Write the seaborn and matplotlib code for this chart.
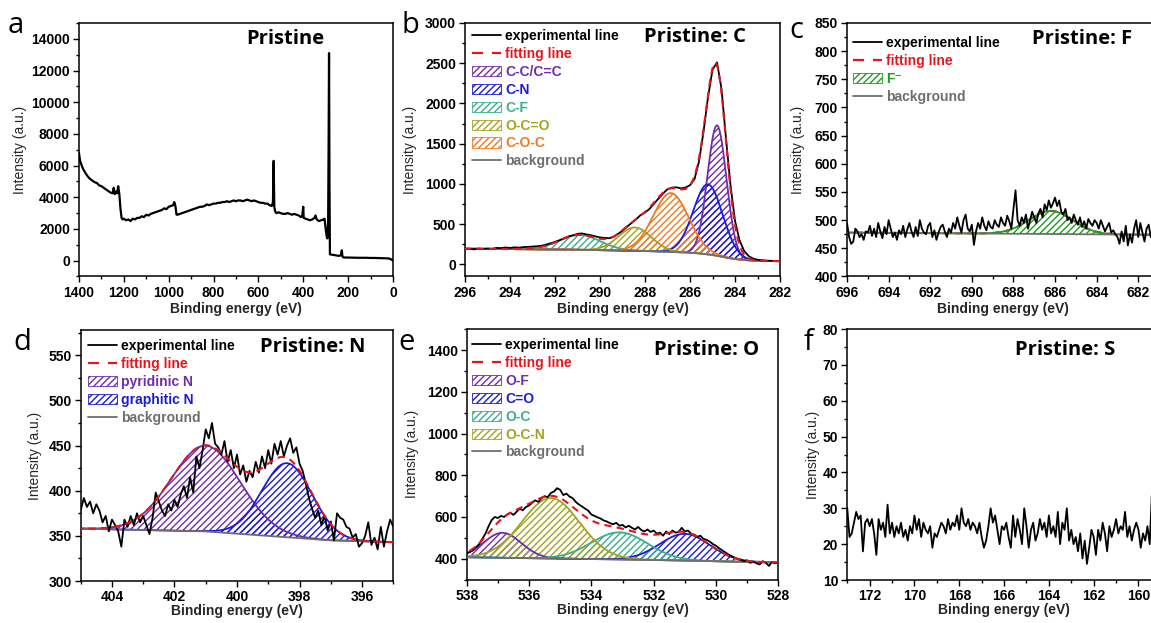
import numpy as np
import seaborn as sns
import matplotlib.pyplot as plt
from matplotlib.lines import Line2D
from matplotlib.patches import Patch
from matplotlib.ticker import MultipleLocator

# ---------------- values ----------------
# (a) survey spectrum
survey_energy = [1400, 1395, 1390, 1385, 1380, 1370, 1360, 1350, 1340, 1330, 1320, 1310, 1300,
                 1290, 1280, 1270, 1260, 1250, 1245, 1240, 1235, 1230, 1225, 1220, 1215, 1210,
                 1205, 1200, 1190, 1180, 1170, 1160, 1150, 1140, 1130, 1120, 1110, 1100, 1090,
                 1080, 1070, 1060, 1050, 1040, 1030, 1020, 1010, 1000, 990, 980, 975, 970, 965,
                 960, 950, 940, 930, 920, 910, 900, 890, 880, 870, 860, 850, 840, 830, 820, 810,
                 800, 790, 780, 770, 760, 750, 740, 730, 720, 710, 700, 690, 680, 670, 660, 650,
                 640, 630, 620, 610, 600, 590, 580, 570, 560, 550, 540, 535, 532, 529, 525, 520,
                 510, 500, 490, 480, 470, 460, 450, 440, 430, 420, 410, 405, 400, 398, 390, 380,
                 370, 360, 350, 345, 340, 330, 320, 310, 305, 300, 295, 292, 289, 287, 285, 283,
                 281, 275, 260, 250, 240, 232, 228, 225, 220, 200, 180, 150, 120, 100, 80, 60,
                 40, 20, 10, 0]
survey_counts = [6800, 6300, 6100, 5900, 5750, 5500, 5300, 5150, 5050, 4950, 4900, 4750, 4700,
                 4600, 4500, 4400, 4300, 4250, 4600, 4200, 4350, 4250, 4700, 4200, 3300, 2700,
                 2600, 2650, 2550, 2600, 2500, 2650, 2600, 2700, 2700, 2800, 2750, 2900, 2850,
                 2950, 3000, 3050, 3100, 3150, 3200, 3300, 3250, 3400, 3450, 3500, 3700, 3450, 2900,
                 2900, 2950, 3000, 3050, 3100, 3150, 3200, 3250, 3300, 3350, 3400, 3400, 3450, 3550, 3500, 3550,
                 3600, 3600, 3650, 3650, 3700, 3700, 3750, 3700, 3750, 3800, 3750, 3800, 3800, 3750, 3800, 3850,
                 3800, 3750, 3800, 3750, 3700, 3650, 3650, 3600, 3600, 3500, 3450, 3700, 6300, 3400, 3100, 3000,
                 3050, 3000, 2950, 2950, 3000, 2950, 2900, 2950, 2900, 2850, 2750, 2800, 3400, 2700, 2650, 2600,
                 2550, 2600, 2700, 2850, 2600, 2500, 2550, 2600, 2650, 2000, 1500, 1400, 2500, 7000, 13100, 5000,
                 400, 380, 350, 320, 300, 350, 650, 250, 200, 200, 190, 180, 180, 170, 170, 160,
                 150, 140, 100, 0]

# (b) C 1s, 296 -> 282 eV in 0.2 eV steps
c1s_range = (296.0, 282.0)
c1s_counts = [190, 192, 188, 196, 194, 198, 195, 205, 203, 210,
              205, 212, 208, 215, 218, 222, 226, 232, 245, 262,
              280, 300, 325, 348, 362, 380, 385, 372, 362, 348,
              335, 330, 325, 342, 380, 418, 468, 515, 560, 612,
              645, 690, 755, 818, 880, 935, 955, 958, 945, 955,
              985, 1060, 1280, 1650, 2080, 2420, 2510, 2180, 1560, 980,
              540, 300, 170, 105, 72, 58, 50, 47, 45, 44, 42]
c1s_bg_energy = [296, 292, 290, 288, 287, 286, 285.5, 285, 284.5, 284, 283.5, 283, 282]
c1s_bg = [195, 186, 178, 167, 158, 146, 135, 118, 92, 66, 52, 45, 40]
c1s_labels = ['C-C/C=C', 'C-N', 'C-F', 'O-C=O', 'C-O-C']
c1s_centers = [284.8, 285.2, 290.9, 288.45, 286.85]
c1s_heights = [1620, 870, 185, 290, 730]
c1s_widths = [0.42, 0.65, 0.9, 0.72, 0.78]

# (c) F 1s, 696 -> 681 eV in 0.1 eV steps
f1s_range = (696.0, 681.0)
f1s_counts = [495, 470, 458, 462, 485, 480, 470, 475, 465, 480,
              478, 490, 472, 485, 470, 495, 480, 468, 488, 475,
              500, 485, 470, 478, 465, 482, 475, 490, 470, 484,
              495, 480, 470, 488, 472, 500, 485, 478, 475, 490,
              495, 470, 482, 465, 478, 488, 492, 480, 470, 485,
              478, 495, 485, 505, 490, 478, 500, 510, 485, 480,
              492, 456, 480, 495, 485, 505, 490, 482, 498, 488,
              485, 500, 492, 488, 505, 495, 490, 508, 498, 485,
              520, 553, 500, 490, 505, 495, 510, 485, 500, 515,
              505, 495, 512, 520, 505, 528, 518, 535, 522, 530,
              540, 525, 535, 515, 510, 520, 500, 505, 495, 510,
              500, 492, 505, 488, 498, 485, 502, 495, 490, 500,
              495, 485, 500, 490, 480, 488, 495, 478, 482, 475,
              470, 458, 480, 462, 490, 455, 475, 460, 485, 500,
              470, 495, 478, 462, 485, 492, 470, 480, 475, 485,
              480]
f1s_bg_energy = [696, 681]
f1s_bg = [478, 474]
f1s_labels = ['F⁻']
f1s_centers = [686.2]
f1s_heights = [41]
f1s_widths = [1.05]

# (d) N 1s, 405 -> 395 eV in 0.1 eV steps
n1s_range = (405.0, 395.0)
n1s_counts = [378, 392, 382, 388, 375, 385, 378, 365, 372, 355,
              368, 362, 355, 338, 368, 360, 372, 362, 375, 365,
              372, 362, 352, 370, 398, 388, 378, 372, 385, 378,
              390, 382, 396, 405, 392, 415, 398, 438, 425, 445,
              468, 458, 475, 452, 448, 440, 455, 432, 445, 425,
              440, 418, 428, 410, 422, 415, 432, 420, 438, 425,
              445, 430, 452, 440, 455, 438, 450, 458, 442, 448,
              430, 422, 408, 392, 380, 370, 378, 362, 372, 356,
              366, 345, 375, 370, 368, 360, 358, 348, 352, 338,
              342, 350, 365, 340, 348, 335, 360, 338, 355, 368,
              360]
n1s_bg_energy = [405, 401, 399, 397, 395]
n1s_bg = [358, 355, 350, 345, 343]
n1s_labels = ['pyridinic N', 'graphitic N']
n1s_centers = [401.0, 398.4]
n1s_heights = [95, 82]
n1s_widths = [1.1, 0.8]

# (e) O 1s, 538 -> 528 eV in 0.1 eV steps
o1s_range = (538.0, 528.0)
o1s_counts = [425, 432, 440, 455, 470, 495, 520, 555, 585, 600,
              595, 605, 600, 612, 620, 610, 625, 640, 632, 648,
              655, 668, 680, 672, 690, 700, 695, 715, 722, 738,
              730, 705, 712, 698, 690, 672, 660, 650, 640, 630,
              612, 605, 598, 592, 583, 578, 570, 565, 572, 558,
              562, 550, 558, 548, 540, 552, 538, 530, 540, 528,
              535, 520, 525, 510, 530, 518, 535, 525, 528, 548,
              530, 535, 520, 515, 505, 510, 495, 490, 482, 470,
              462, 450, 440, 430, 420, 412, 405, 398, 395, 388,
              392, 380, 385, 378, 372, 388, 380, 365, 385, 378,
              382]
o1s_bg_energy = [538, 536, 534, 532, 530, 529, 528]
o1s_bg = [407, 402, 398, 394, 388, 384, 382]
o1s_labels = ['O-F', 'C=O', 'O-C', 'O-C-N']
o1s_centers = [536.85, 531.0, 533.1, 535.3]
o1s_heights = [120, 128, 130, 290]
o1s_widths = [0.6, 0.8, 0.9, 0.92]

# (f) S 2p, 173 -> 159.4 eV in 0.1 eV steps
s2p_range = (173.0, 159.4)
s2p_counts = [30, 22, 23, 26, 29, 27, 28, 18, 26, 27,
              25, 27, 23, 17, 27, 24, 26, 22, 31, 23,
              26, 22, 25, 23, 26, 22, 24, 21, 25, 23,
              28, 24, 27, 22, 26, 24, 23, 25, 19, 23,
              22, 24, 26, 25, 23, 27, 24, 26, 25, 28,
              24, 30, 26, 25, 27, 24, 26, 25, 23, 26,
              22, 19, 21, 25, 30, 26, 28, 24, 20, 25,
              24, 26, 22, 19, 28, 22, 27, 24, 20, 30,
              25, 19, 24, 26, 21, 23, 27, 24, 26, 22,
              28, 23, 25, 22, 29, 20, 26, 24, 30, 21,
              24, 20, 22, 18, 23, 16, 21, 14.5, 19, 24,
              22, 17, 24, 21, 26, 23, 18, 25, 22, 24,
              27, 23, 25, 24, 29, 22, 25, 21, 24, 26,
              24, 19, 23, 21, 25, 20, 34.5]

PURPLE = '#6f2da8'
BLUE = '#1b1bdc'
TEAL = '#3aae8a'
OLIVE = '#a3a322'
ORANGE = '#f07a1e'
GREEN = '#1f9a1f'
GREY = '#6e6e6e'
RED = '#e8141c'

c1s_colors = [PURPLE, BLUE, TEAL, OLIVE, ORANGE]
f1s_colors = [GREEN]
n1s_colors = [PURPLE, BLUE]
o1s_colors = [PURPLE, BLUE, TEAL, OLIVE]

# ---------------- style ----------------
sns.set_theme(style='ticks')
plt.rcParams['font.family'] = ['Liberation Sans', 'DejaVu Sans']
plt.rcParams['font.weight'] = 'bold'
plt.rcParams['hatch.linewidth'] = 1.0
plt.rcParams['axes.linewidth'] = 1.1

FS = 10


def energies(rng, n):
    return np.linspace(rng[0], rng[1], n)


def style_axis(ax, xlim, ylim, xmaj, xmin, ymaj, ymin, ylab_x, xlab_y):
    ax.set_xlim(*xlim)
    ax.set_ylim(*ylim)
    ax.xaxis.set_major_locator(MultipleLocator(xmaj))
    ax.xaxis.set_minor_locator(MultipleLocator(xmin))
    ax.yaxis.set_major_locator(MultipleLocator(ymaj))
    ax.yaxis.set_minor_locator(MultipleLocator(ymin))
    ax.tick_params(which='both', direction='out', top=False, right=False,
                   width=1.0, labelsize=FS, pad=2, colors='black')
    ax.tick_params(which='major', length=4.5)
    ax.tick_params(which='minor', length=2.5)
    for sp in ax.spines.values():
        sp.set_visible(True)
        sp.set_color('black')
        sp.set_linewidth(1.1)
    ax.set_xlabel('Binding energy (eV)', fontsize=FS, fontweight='bold')
    ax.set_ylabel('Intensity (a.u.)', fontsize=FS, fontweight='normal')
    ax.yaxis.set_label_coords(ylab_x, 0.5)
    ax.xaxis.set_label_coords(0.5, xlab_y)


def draw_fit(ax, energy, counts, bg_e, bg_v, centers, heights, widths, colors,
             xlim, fit_under=False):
    grid = np.linspace(min(xlim), max(xlim), 800)
    bg = np.interp(grid, bg_e[::-1], bg_v[::-1])
    total = np.zeros_like(grid)
    for c, h, w, col in zip(centers, heights, widths, colors):
        g = h * np.exp(-(grid - c) ** 2 / (2 * w ** 2))
        ax.fill_between(grid, bg, bg + g, facecolor='none', edgecolor=col,
                        hatch='/////', linewidth=0, zorder=1)
        ax.plot(grid, bg + g, color=col, lw=1.3, zorder=2)
        total += g
    ax.plot(grid, bg, color=GREY, lw=1.3, zorder=3)
    sns.lineplot(x=energy, y=counts, color='black', lw=1.3, ax=ax, zorder=4)
    sns.lineplot(x=grid, y=bg + total, color=RED, lw=1.5,
                 linestyle=(0, (3.5, 2.5)), ax=ax, zorder=1.5 if fit_under else 5)


def add_legend(ax, labels, colors, anchor):
    handles = [Line2D([], [], color='black', lw=1.3),
               Line2D([], [], color=RED, lw=1.6, linestyle=(0, (5, 4)))]
    handles += [Patch(facecolor='white', edgecolor=c, hatch='/////', lw=0.6) for c in colors]
    handles.append(Line2D([], [], color=GREY, lw=1.3))
    texts = ['experimental line', 'fitting line'] + labels + ['background']
    tcols = ['black', RED] + colors + [GREY]
    leg = ax.legend(handles, texts, loc='upper left', bbox_to_anchor=anchor,
                    frameon=False, fontsize=FS, handlelength=2.1, handletextpad=0.3,
                    labelspacing=0.28, borderaxespad=0, borderpad=0, handleheight=0.75)
    for t, c in zip(leg.get_texts(), tcols):
        t.set_color(c)
        t.set_fontweight('bold')


def title(ax, text, x, y):
    ax.text(x, y, text, transform=ax.transAxes, ha='center', va='center',
            fontsize=14.5, family='Open Sans', fontweight='bold', color='black')


fig = plt.figure(figsize=(11.51, 6.23), dpi=100)
ax_a = fig.add_axes([0.0686, 0.5562, 0.2728, 0.4069])
ax_b = fig.add_axes([0.4040, 0.5562, 0.2737, 0.4069])
ax_c = fig.add_axes([0.7359, 0.5562, 0.2711, 0.4069])
ax_d = fig.add_axes([0.0701, 0.0674, 0.2716, 0.4029])
ax_e = fig.add_axes([0.4055, 0.0698, 0.2707, 0.4016])
ax_f = fig.add_axes([0.7361, 0.0690, 0.2725, 0.4029])

# (a) survey
sns.lineplot(x=survey_energy, y=survey_counts, color='black', lw=1.6, ax=ax_a)
style_axis(ax_a, (1400, 0), (-1000, 15000), 200, 100, 2000, 1000, -0.165, -0.1)
title(ax_a, 'Pristine', 0.656, 0.937)

# (b) C 1s
draw_fit(ax_b, energies(c1s_range, len(c1s_counts)), c1s_counts, c1s_bg_energy, c1s_bg,
         c1s_centers, c1s_heights, c1s_widths, c1s_colors, c1s_range)
style_axis(ax_b, c1s_range, (-150, 3000), 2, 1, 500, 250, -0.152, -0.1)
add_legend(ax_b, c1s_labels, c1s_colors, (0.022, 0.976))
title(ax_b, 'Pristine: C', 0.73, 0.945)

# (c) F 1s
draw_fit(ax_c, energies(f1s_range, len(f1s_counts)), f1s_counts, f1s_bg_energy, f1s_bg,
         f1s_centers, f1s_heights, f1s_widths, f1s_colors, f1s_range, fit_under=True)
style_axis(ax_c, f1s_range, (400, 850), 2, 1, 50, 25, -0.135, -0.1)
add_legend(ax_c, f1s_labels, f1s_colors, (0.019, 0.949))
title(ax_c, 'Pristine: F', 0.752, 0.937)

# (d) N 1s
draw_fit(ax_d, energies(n1s_range, len(n1s_counts)), n1s_counts, n1s_bg_energy, n1s_bg,
         n1s_centers, n1s_heights, n1s_widths, n1s_colors, n1s_range)
style_axis(ax_d, n1s_range, (300, 578), 2, 1, 50, 25, -0.125, -0.092)
add_legend(ax_d, n1s_labels, n1s_colors, (0.023, 0.964))
title(ax_d, 'Pristine: N', 0.743, 0.934)

# (e) O 1s
draw_fit(ax_e, energies(o1s_range, len(o1s_counts)), o1s_counts, o1s_bg_energy, o1s_bg,
         o1s_centers, o1s_heights, o1s_widths, o1s_colors, o1s_range)
style_axis(ax_e, o1s_range, (300, 1500), 2, 1, 200, 100, -0.154, -0.092)
add_legend(ax_e, o1s_labels, o1s_colors, (0.017, 0.965))
title(ax_e, 'Pristine: O', 0.77, 0.917)

# (f) S 2p
sns.lineplot(x=energies(s2p_range, len(s2p_counts)), y=s2p_counts, color='black', lw=1.3, ax=ax_f)
style_axis(ax_f, (173.0, 159.0), (10, 80), 2, 1, 10, 5, -0.086, -0.092)
title(ax_f, 'Pristine: S', 0.694, 0.916)

# panel letters
for letter, px, py in [('a', 16, 33), ('b', 410, 33), ('c', 796, 38),
                       ('d', 22, 350), ('e', 407, 350), ('f', 808, 350)]:
    fig.text(px / 1151, 1 - py / 623, letter, fontsize=21, family='Open Sans',
             fontweight='normal', ha='center', va='baseline', color='black')

fig.savefig('out.png', dpi=100)
